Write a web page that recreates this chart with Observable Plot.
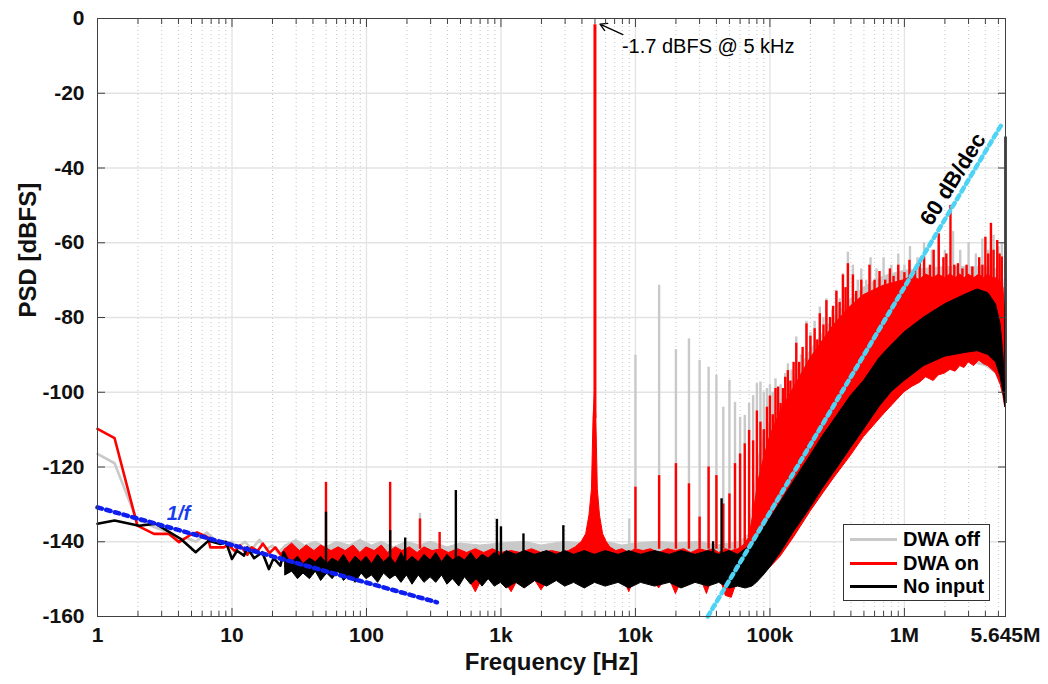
<!DOCTYPE html>
<html><head><meta charset="utf-8">
<script src="https://cdn.jsdelivr.net/npm/d3@7"></script>
<script src="https://cdn.jsdelivr.net/npm/@observablehq/plot@0.6"></script>
<style>
body{margin:0;background:#fff;}
#wrap{position:relative;width:1048px;height:684px;font-family:"Liberation Sans",Arial,Helvetica,sans-serif;}
#wrap svg{position:absolute;left:0;top:0;}
#legend{position:absolute;left:843px;top:524px;width:145px;height:75px;border:1px solid #333;background:#fff;}
.row{position:absolute;left:0;height:23px;display:flex;align-items:center;font-weight:bold;font-size:20px;color:#000;white-space:nowrap;}
.sw{width:47px;height:3px;margin-left:6px;margin-right:6px;}
</style></head><body><div id="wrap"><div id="legend"></div></div>
<script>
// ---------- axis ticks ----------
const xTicks = [1, 10, 100, 1e3, 1e4, 1e5, 1e6, 5645000];
const xTickLabels = ["1", "10", "100", "1k", "10k", "100k", "1M", "5.645M"];
const yTicks = [-160, -140, -120, -100, -80, -60, -40, -20, 0];

// ---------- series names / colours ----------
const seriesNames = ["DWA off", "DWA on", "No input"];
const seriesColors = ["#c9c9c9", "#ff0000", "#000000"];

// ---------- low-frequency traces [Hz, dBFS] ----------
const offLow = [[1,-116.5],[1.34,-119],[1.95,-134],[2.6,-136],[3.4,-137.5],[4,-139.5],[4.6,-139],[5.4,-140],[6.5,-137.5],[7.5,-139.5],[8.5,-140.5],[10,-140],[11,-141.5],[12.5,-140],[14,-142],[16,-139.5],[18,-142],[20,-141],[22,-143],[25,-141]];
const onLow = [[1,-109.8],[1.34,-112.3],[1.98,-135.7],[2.63,-137.9],[3.4,-137.9],[4.04,-140.1],[5,-138],[5.5,-137.5],[6.6,-138.8],[6.9,-141.5],[8.7,-141.5],[9.4,-140.8],[10.5,-142.5],[11.5,-141],[13,-143.5],[14,-141.5],[15.5,-142.5],[17,-140.5],[19,-143],[21,-141.5],[23,-143.5],[25,-142]];
const noLow = [[1,-135.2],[1.34,-134.3],[2.04,-135.7],[2.71,-135.2],[4.15,-139.2],[5.37,-142.8],[6.7,-139.7],[8.2,-140.6],[9,-140],[10,-144.6],[10.9,-142.4],[12.3,-143.7],[13,-141.5],[14.6,-144.4],[16.8,-142.8],[18.8,-147.3],[20.4,-144.4],[22.9,-146.4],[24.2,-142.8],[26,-145]];

// ---------- dense noise bands [Hz, low dBFS, high dBFS] ----------
const offBand = [[25,-147,-141],[30,-147,-139.5],[35,-147,-141],[42,-147,-140],[50,-147,-141.5],[60,-147,-140],[75,-147,-141],[90,-147,-139.5],[110,-147,-141],[130,-147,-140],[160,-147,-141.5],[200,-147,-140],[250,-147,-141],[300,-147,-140],[400,-147,-141.5],[500,-147,-140.5],[700,-147,-141],[1000,-147,-140.5],[1500,-147,-140],[2000,-147,-141],[3000,-147,-140],[4000,-147,-140.5],[6000,-147,-140],[8000,-147,-141],[10000,-147,-140.5],[15000,-147,-140],[20000,-147,-140.5],[30000,-147,-140],[40000,-147,-141],[50000,-147,-140.5],[60000,-147,-140],[70000,-147,-138],
[76000,-149,-128],[82000,-148,-118],[90000,-147,-112],[100000,-146,-108],[120000,-143,-102],[150000,-138,-96],[200000,-131,-89],[250000,-126,-84],[300000,-122,-80],[400000,-116,-75],[500000,-111,-72],[700000,-105,-69],[1000000,-100,-67.5],[1400000,-96,-67],[2000000,-94,-66.5],[3000000,-92,-66.5],[4000000,-93,-66.5],[4800000,-95,-67],[5200000,-98,-68],[5450000,-101,-70],[5560000,-103,-75],[5620000,-104,-95],[5645000,-104,-102]];

const onBand = [[25,-147,-142],[28,-147,-140.5],[32,-147,-142.5],[36,-147,-141],[41,-147,-142.5],[46,-147,-141],[55,-147,-142.5],[62,-147,-141.5],[70,-147,-142.5],[80,-147,-141],[90,-147,-143],[100,-147,-141.5],[115,-147,-142.5],[130,-147,-141],[145,-147,-143],[165,-147,-141.5],[185,-147,-142.5],[210,-147,-141.5],[240,-147,-143],[270,-147,-141.5],[310,-147,-142.5],[360,-147,-142],[410,-147,-143],[480,-147,-142],[560,-149,-143],[650,-153.5,-142],[750,-149,-143],[870,-149,-142],[1000,-149,-143],[1200,-153.5,-142.5],[1400,-149,-143],[1700,-149,-142],[2000,-153,-143],[2400,-149,-142.5],[2800,-149,-143],[3200,-149,-142.5],[3600,-149,-141.5],[4000,-149,-140],[4300,-149,-138],[4550,-149,-133],[4750,-149,-126],[4880,-149,-107],[5000,-149,-100],[5120,-149,-107],[5250,-149,-126],[5450,-149,-133],[5750,-149,-138],[6100,-149,-140],[6500,-149,-141.5],[7200,-149,-142.5],[8000,-149,-142],[9000,-153.5,-143],[10000,-149,-142],[11500,-149,-142.5],[13000,-149,-142],[15000,-152.5,-143],[17500,-149,-142],[20000,-154,-142.5],[23000,-149,-142],[26000,-149,-143],[30000,-149,-142],[34000,-154,-142.5],[38000,-149,-142],[42000,-149,-143],[47000,-154.5,-142],[52000,-155,-142.5],[58000,-150,-142],[64000,-150,-141],[70000,-150,-139],
[76000,-150,-132],[82000,-149,-124],[90000,-148,-118],[100000,-147,-112],[120000,-144,-105],[150000,-139,-99],[200000,-132,-91],[250000,-127,-86],[300000,-123,-82],[400000,-117,-77],[500000,-112,-74],[700000,-106,-71.5],[1000000,-100,-70],[1150000,-98.5,-69],[1300000,-97.5,-70],[1450000,-96,-68.5],[1650000,-97,-69.5],[1800000,-95.5,-68.5],[2000000,-95,-69.5],[2200000,-94,-68.5],[2400000,-94.5,-69.5],[2600000,-93,-68.5],[2800000,-93.5,-69.5],[3000000,-92,-68.5],[3300000,-93,-69.5],[3600000,-91.5,-68.5],[3900000,-92.5,-69.5],[4200000,-93,-68.5],[4500000,-94,-69.5],[4800000,-95,-69.5],[5000000,-96.5,-70],[5200000,-98,-70.5],[5450000,-101,-72],[5560000,-103,-77],[5620000,-104,-95],[5645000,-104,-102]];

const noBand = [[25,-149,-144],[28,-148,-145.5],[31,-150,-144],[34,-148.5,-146],[38,-150,-144.5],[42,-148,-145.5],[46,-150.5,-144],[51,-148.5,-146],[56,-150,-144.5],[62,-148,-145.5],[68,-150.5,-143.5],[75,-149,-146],[83,-151,-144],[92,-148.5,-145.5],[100,-150,-144],[110,-149,-146],[122,-151,-143.5],[135,-148.5,-145.5],[150,-150,-144],[165,-149,-146],[182,-151,-143],[200,-149,-145.5],[220,-151.5,-144],[245,-149,-145.5],[270,-151,-143.5],[300,-149.5,-145],[330,-151,-143],[365,-149,-145.5],[400,-151.5,-143.5],[440,-150,-145],[490,-152,-144],[540,-149.5,-145],[600,-151.5,-143],[660,-150,-145],[730,-152,-143.5],[810,-150,-144.5],[900,-152,-143],[1000,-151,-144],[1100,-152.5,-142.5],[1300,-151,-143.5],[1500,-152.5,-142.5],[1800,-150.5,-143.5],[2200,-152,-142.5],[2600,-150.5,-143.5],[3000,-152,-142.5],[3500,-151,-143.5],[4200,-152.5,-142.5],[5000,-151,-143.5],[6000,-152,-142.5],[7500,-151,-143.5],[9000,-152.5,-142.5],[11000,-151,-143.5],[14000,-152,-142.5],[18000,-151,-143.5],[22000,-152.5,-142.5],[28000,-151,-143.5],[35000,-152,-142.5],[42000,-151,-143.5],[50000,-152.5,-142.5],[58000,-152,-143.5],[66000,-152.5,-142],[74000,-152,-141],[80000,-151,-139.5],[90000,-149,-136.5],[100000,-147,-134],[120000,-143,-129.5],[150000,-137.5,-124],[200000,-131,-117],[250000,-125.5,-111.5],[300000,-121.5,-107.5],[400000,-115,-101],[500000,-110,-97],[650000,-104,-91],[800000,-100,-87.5],[1000000,-97,-84],[1400000,-93,-80],[2000000,-90.5,-76.5],[2800000,-89.5,-74],[3500000,-89,-72.5],[4200000,-90,-73.5],[4800000,-92,-76.5],[5200000,-96,-82],[5450000,-100,-90],[5600000,-103,-100],[5645000,-104,-103]];

// ---------- discrete tones [Hz, base dBFS, peak dBFS] ----------
const offSpikes = [[250,-141,-132.4],[9000,-141,-133.9],[10000,-141,-90.1],[15000,-141,-71.4],[20000,-141,-88.6],[25000,-141,-85.7],[30000,-141,-91.5],[35000,-141,-93.3],[40000,-141,-95.5],[45000,-141,-104],[50000,-141,-96.8],[55000,-141,-102.7],[60000,-141,-106.7],[65000,-141,-106.2],[70000,-141,-103],
[75000,-138,-100.9],[80000,-138,-97.7],[85000,-138,-97.3],[90000,-138,-100],[95000,-138,-99],[100000,-135,-98],[105000,-135,-100],[110000,-135,-96.4],[120000,-135,-98],[130000,-135,-95],[136000,-135,-92.4],[145000,-135,-94],[157000,-115,-85.2],[170000,-115,-90],[187000,-115,-81],[200000,-115,-84],[215000,-115,-81],[235000,-115,-77.2],[250000,-115,-80],[263000,-115,-75],[290000,-115,-78],[312000,-115,-72.7],[330000,-115,-75],[349000,-115,-68.3],[380000,-115,-62.5],[414000,-95,-66],[450000,-95,-70],[478000,-95,-67],[520000,-95,-70],[560000,-95,-64],[620000,-95,-67],[700000,-95,-64],[800000,-95,-66],[900000,-95,-63],[1000000,-95,-66],[1100000,-80,-61],[1250000,-80,-64],[1400000,-80,-60],[1600000,-80,-62],[1800000,-80,-59],[2000000,-80,-62],[2300000,-80,-57],[2600000,-80,-62],[3000000,-80,-60],[3400000,-80,-63],[3800000,-80,-59],[4200000,-80,-62],[4600000,-80,-58],[5000000,-80,-61],[5300000,-80,-60]];
const onSpikes = [[50,-142,-124.1],[150,-142,-124.1],[250,-142,-133.9],[350,-142,-137.5],[10000,-142,-125.4],[15000,-142,-122.3],[20000,-142,-119.1],[25000,-142,-124.5],[30000,-142,-133.4],[35000,-142,-120],[40000,-142,-122.3],[45000,-142,-129.9],[50000,-142,-127.2],[55000,-142,-119.1],[60000,-142,-116.5],[65000,-142,-113.8],[70000,-142,-110.2],
[75000,-135,-113],[80000,-135,-105],[85000,-135,-108],[90000,-135,-110],[95000,-135,-104],[100000,-135,-101],[105000,-135,-106],[110000,-135,-99],[115000,-135,-98.6],[120000,-135,-103],[125000,-135,-99],[130000,-135,-96],[136000,-135,-94.2],[142000,-135,-97],
[150000,-115,-92],[157000,-115,-86.9],[165000,-115,-92],[175000,-115,-88],[187000,-115,-81.7],[200000,-115,-85],[215000,-115,-83],[225000,-115,-86],[235000,-115,-79],[250000,-115,-82],[263000,-115,-75.5],[280000,-115,-80],[295000,-115,-77],[312000,-115,-73],[330000,-115,-76],[349000,-115,-68.6],[365000,-115,-72],[380000,-115,-65.6],
[414000,-95,-68.6],[438000,-95,-73],[478000,-95,-70],[520000,-95,-74],[550000,-95,-66],[600000,-95,-70],[653000,-95,-67.7],[720000,-95,-70],[780000,-95,-67],[830000,-95,-69],[900000,-95,-66],[1000000,-95,-68],
[1090000,-80,-64.7],[1200000,-80,-67],[1300000,-80,-65],[1400000,-80,-63.8],[1550000,-80,-66],[1650000,-80,-62],[1800000,-80,-57.6],[1950000,-80,-64],[2050000,-80,-63],[2200000,-80,-50],[2350000,-80,-66],[2500000,-80,-65.6],[2700000,-80,-67],[2900000,-80,-66],[3200000,-80,-66.5],[3600000,-80,-64],[3800000,-80,-66],[4000000,-80,-58.5],[4200000,-80,-63],[4400000,-80,-54.8],[4600000,-80,-62],[4900000,-80,-59.4],[5100000,-80,-63],[5300000,-80,-63.8]];
const onTone = [[5000,-107,-1.7]];
const noSpikes = [[50,-146,-132.1],[150,-146,-137],[194,-146,-139],[462,-146,-126.3],[933,-146,-134],[1000,-146,-136],[1470,-146,-137.9],[2910,-146,-135.7],[37800,-146,-140],[43700,-146,-128.5],[5645000,-103,-31.7]];

// ---------- guide lines ----------
const oneOverF = [[1,-130.8],[334,-156.2]];
const slope60 = [[34500,-160],[5350000,-28]];
const guideLabels = [{f: 4.0, v: -132.4, t: "1/f"}];
const slopeLabel = [{f: 2.3e6, v: -43, t: "60 dB/dec"}];
const toneNote = [{f: 5000, v: -1.7, t: "-1.7 dBFS @ 5 kHz"}];

// minor tick positions (2..9 per decade)
const minorTicks = [];
for (let d = 1; d <= 1e6; d *= 10) for (let k = 2; k <= 9; k++) if (d * k < 5645000) minorTicks.push(d * k);
const majorGrid = [10, 100, 1e3, 1e4, 1e5, 1e6];
const FONT = '"Liberation Sans", Arial, Helvetica, sans-serif';
const AX = "#404040";
const blank = () => "";

const lowMarks = (data, c) => Plot.line(data, {x: d => d[0], y: d => d[1], stroke: c, strokeWidth: 2.6});
const bandMarks = (data, c) => Plot.areaY(data, {x: d => d[0], y1: d => d[1], y2: d => d[2], fill: c, stroke: c, strokeWidth: 1});
const spikeMarks = (data, c, w) => Plot.ruleX(data, {x: d => d[0], y1: d => d[1], y2: d => d[2], stroke: c, strokeWidth: w});

const chart = Plot.plot({
  width: 1048, height: 684,
  marginLeft: 97, marginRight: 43, marginTop: 18, marginBottom: 68,
  style: {fontFamily: FONT, fontSize: "21px", fontWeight: "bold", color: "#111", background: "white", overflow: "visible"},
  x: {type: "log", domain: [1, 5645000], axis: null},
  y: {domain: [-160, 0], axis: null},
  marks: [
    // grid
    Plot.ruleX(minorTicks, {stroke: "#c4c4c4", strokeWidth: 1, strokeDasharray: "1,3"}),
    Plot.ruleX(majorGrid, {stroke: "#e3e3e3", strokeWidth: 1.3}),
    Plot.ruleY(yTicks.slice(1, -1), {stroke: "#e3e3e3", strokeWidth: 1.3}),
    // DWA off
    lowMarks(offLow, seriesColors[0]),
    bandMarks(offBand, seriesColors[0]),
    spikeMarks(offSpikes, seriesColors[0], 2.4),
    // DWA on
    lowMarks(onLow, seriesColors[1]),
    bandMarks(onBand, seriesColors[1]),
    spikeMarks(onSpikes, seriesColors[1], 2.4),
    spikeMarks(onTone, seriesColors[1], 3),
    // No input
    lowMarks(noLow, seriesColors[2]),
    bandMarks(noBand, seriesColors[2]),
    spikeMarks(noSpikes, seriesColors[2], 2.4),
    // guides
    Plot.line(oneOverF, {x: d => d[0], y: d => d[1], stroke: "#0f1ef0", strokeWidth: 4.5, strokeDasharray: "4.5,4.5"}),
    Plot.line(slope60, {x: d => d[0], y: d => d[1], stroke: "#4fd3f4", strokeWidth: 4.5, strokeDasharray: "4.5,4.5"}),
    Plot.text(guideLabels, {x: d => d.f, y: d => d.v, text: d => d.t, fill: "#1a3cf0", fontSize: 20, fontWeight: "bold", fontStyle: "italic"}),
    Plot.text(slopeLabel, {x: d => d.f, y: d => d.v, text: d => d.t, fill: "#000", fontSize: 22, fontWeight: "bold", rotate: -58}),
    Plot.text(toneNote, {x: d => d.f, y: d => d.v, text: d => d.t, fill: "#000", fontSize: 20, fontWeight: "normal", textAnchor: "start", dx: 27, dy: 22}),
    Plot.arrow(toneNote, {x1: d => d.f * 1.614, y1: d => d.v - 2.6, x2: d => d.f * 1.09, y2: d => d.v + 0.2, stroke: "#000", strokeWidth: 1.3, headLength: 9}),
    // axes & box
    Plot.frame({stroke: AX, strokeWidth: 1}),
    Plot.axisX(xTicks, {anchor: "bottom", tickSize: -8, tickFormat: blank, label: null, stroke: AX}),
    Plot.axisX(xTicks, {anchor: "top", tickSize: -8, tickFormat: blank, label: null, stroke: AX}),
    Plot.axisX(minorTicks, {anchor: "bottom", tickSize: -5, tickFormat: blank, label: null, stroke: AX}),
    Plot.axisX(minorTicks, {anchor: "top", tickSize: -5, tickFormat: blank, label: null, stroke: AX}),
    Plot.axisY(yTicks, {anchor: "left", tickSize: -8, tickFormat: blank, label: null, stroke: AX}),
    Plot.axisY(yTicks, {anchor: "right", tickSize: -8, tickFormat: blank, label: null, stroke: AX}),
    // tick labels
    Plot.text(xTicks, {x: d => d, frameAnchor: "bottom", lineAnchor: "top", dy: 11, text: (d, i) => xTickLabels[i], fontSize: 21, fontWeight: "bold", fill: "#111"}),
    Plot.text(yTicks, {y: d => d, frameAnchor: "left", textAnchor: "end", dx: -13, text: d => String(d), fontSize: 21, fontWeight: "bold", fill: "#111"}),
    // axis titles
    Plot.text(["Frequency [Hz]"], {frameAnchor: "bottom", dy: 53, text: d => d, fontSize: 24, fontWeight: "bold", fill: "#111"}),
    Plot.text(["PSD [dBFS]"], {frameAnchor: "left", dx: -69, rotate: -90, text: d => d, fontSize: 24, fontWeight: "bold", fill: "#111"})
  ]
});
const wrap = document.getElementById("wrap");
wrap.insertBefore(chart, wrap.firstChild);

const legend = document.getElementById("legend");
seriesNames.forEach((name, i) => {
  const row = document.createElement("div");
  row.className = "row";
  row.style.top = (3 + i * 23.5) + "px";
  const sw = document.createElement("div");
  sw.className = "sw";
  sw.style.background = seriesColors[i];
  const tx = document.createElement("span");
  tx.textContent = name;
  row.appendChild(sw); row.appendChild(tx);
  legend.appendChild(row);
});
</script></body></html>
